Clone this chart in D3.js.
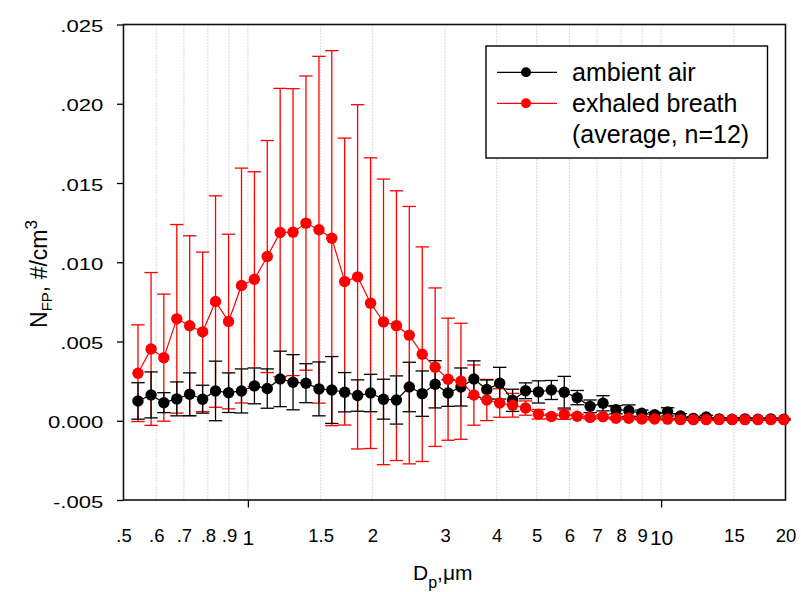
<!DOCTYPE html>
<html>
<head>
<meta charset="utf-8">
<script src="https://cdn.jsdelivr.net/npm/d3@7"></script>
<style>
  body { margin: 0; background: #fff; }
  svg { display: block; font-family: "Liberation Sans", Arial, sans-serif; }
</style>
</head>
<body>
<svg id="chart" width="801" height="592"></svg>
<script>
// ---- data ----
const diameters = [0.542, 0.583, 0.626, 0.673, 0.723, 0.777, 0.835, 0.898, 0.965, 1.037,
  1.114, 1.197, 1.286, 1.382, 1.486, 1.596, 1.715, 1.843, 1.981, 2.129,
  2.288, 2.458, 2.642, 2.839, 3.051, 3.278, 3.523, 3.786, 4.068, 4.371,
  4.698, 5.048, 5.425, 5.829, 6.264, 6.732, 7.234, 7.774, 8.354, 8.977,
  9.647, 10.37, 11.14, 11.97, 12.86, 13.82, 14.86, 15.96, 17.15, 18.43, 19.81];

const ambientMean = [0.00125, 0.00163, 0.00114, 0.00138, 0.00167, 0.00136, 0.00188, 0.00177, 0.00188, 0.00220,
  0.00203, 0.00264, 0.00243, 0.00237, 0.00201, 0.00194, 0.00180, 0.00159, 0.00175, 0.00136,
  0.00131, 0.00213, 0.00171, 0.00230, 0.00175, 0.00213, 0.00263, 0.00197, 0.00237, 0.00129,
  0.00189, 0.00182, 0.00194, 0.00180, 0.00146, 0.00091, 0.00110, 0.00070, 0.00064, 0.00047,
  0.00038, 0.00056, 0.00030, 0.00015, 0.00024, 0.00012, 0.00010, 0.00012, 0.00010, 0.00012, 0.00010];

const ambientErr = [0.00115, 0.00145, 0.00063, 0.00107, 0.00135, 0.00088, 0.00188, 0.00125, 0.00139, 0.00113,
  0.00124, 0.00175, 0.00174, 0.00123, 0.00170, 0.00211, 0.00124, 0.00099, 0.00118, 0.00126,
  0.00152, 0.00156, 0.00143, 0.00149, 0.00084, 0.00120, 0.00115, 0.00060, 0.00100, 0.00070,
  0.00050, 0.00070, 0.00060, 0.00100, 0.00045, 0.00040, 0.00048, 0.00026, 0.00036, 0.00020,
  0.00015, 0.00026, 0.00015, 0.00010, 0.00010, 0.00008, 0.00008, 0.00008, 0.00006, 0.00006, 0.00005];

const breathMean = [0.00300, 0.00453, 0.00398, 0.00643, 0.00599, 0.00561, 0.00752, 0.00626, 0.00853, 0.00893,
  0.01036, 0.01188, 0.01190, 0.01247, 0.01205, 0.01152, 0.00878, 0.00908, 0.00742, 0.00624,
  0.00600, 0.00540, 0.00420, 0.00338, 0.00262, 0.00249, 0.00162, 0.00131, 0.00112, 0.00098,
  0.00080, 0.00041, 0.00027, 0.00039, 0.00028, 0.00021, 0.00026, 0.00016, 0.00016, 0.00011,
  0.00011, 0.00010, 0.00007, 0.00007, 0.00007, 0.00007, 0.00007, 0.00007, 0.00007, 0.00007, 0.00007];

const breathErr = [0.00305, 0.00482, 0.00401, 0.00595, 0.00568, 0.00503, 0.00667, 0.00551, 0.00741, 0.00678,
  0.00732, 0.00909, 0.00905, 0.00928, 0.01094, 0.01183, 0.00905, 0.01086, 0.00917, 0.00901,
  0.00851, 0.00812, 0.00677, 0.00500, 0.00385, 0.00366, 0.00190, 0.00130, 0.00090, 0.00075,
  0.00045, 0.00030, 0.00015, 0.00030, 0.00012, 0.00010, 0.00012, 0.00008, 0.00006, 0.00005,
  0.00005, 0.00005, 0.00003, 0.00003, 0.00003, 0.00003, 0.00003, 0.00003, 0.00003, 0.00003, 0.00003];

const xTickValues = [0.5, 0.6, 0.7, 0.8, 0.9, 1, 1.5, 2, 3, 4, 5, 6, 7, 8, 9, 10, 15, 20];
const xTickLabels = [".5", ".6", ".7", ".8", ".9", "1", "1.5", "2", "3", "4", "5", "6", "7", "8", "9", "10", "15", "20"];
const xMajorTicks = [1, 10];
const yTickValues = [-0.005, 0, 0.005, 0.010, 0.015, 0.020, 0.025];
const yTickLabels = ["-.005", "0.000", ".005", ".010", ".015", ".020", ".025"];
const seriesNames = ["ambient air", "exhaled breath", "(average, n=12)"];

// ---- layout ----
const L = 123.5, R = 785.5, T = 24.5, B = 500;
const svg = d3.select("#chart");
const x = d3.scaleLog().domain([0.5, 20]).range([L, R]);
const y = d3.scaleLinear().domain([-0.005, 0.025]).range([B, T]);

// grid
svg.append("g").selectAll("line")
  .data(xTickValues.filter(v => v > 0.5 && v < 20))
  .join("line")
  .attr("x1", d => x(d)).attr("x2", d => x(d))
  .attr("y1", T).attr("y2", B)
  .attr("stroke", "#b4b4b4").attr("stroke-width", 1)
  .attr("stroke-dasharray", "1,2");

// x axis labels
const xLabelMap = new Map(xTickValues.map((v, i) => [v, xTickLabels[i]]));
const gx = svg.append("g").attr("transform", `translate(0,${B})`)
  .call(d3.axisBottom(x).tickValues(xTickValues).tickSize(0).tickFormat(d => xLabelMap.get(d)));
gx.select(".domain").remove();
gx.selectAll("text")
  .attr("dy", 0)
  .attr("y", d => xMajorTicks.includes(d) ? 45 : 41.7)
  .attr("fill", "#000")
  .style("font-size", d => xMajorTicks.includes(d) ? "21px" : "18.5px")
  .style("font-family", '"Liberation Sans", Arial, sans-serif');

// major x ticks
const gxm = svg.append("g").attr("transform", `translate(0,${B})`)
  .call(d3.axisBottom(x).tickValues(xMajorTicks).tickSize(7.5).tickFormat(""));
gxm.select(".domain").remove();
gxm.selectAll("line").attr("stroke", "#000").attr("stroke-width", 1.3);

// y axis
const yLabelMap = new Map(yTickValues.map((v, i) => [v, yTickLabels[i]]));
const gy = svg.append("g").attr("transform", `translate(${L},0)`)
  .call(d3.axisLeft(y).tickValues(yTickValues).tickSize(6.5).tickFormat(d => yLabelMap.get(d)));
gy.select(".domain").remove();
gy.selectAll("line").attr("stroke", "#000").attr("stroke-width", 1.3);
gy.selectAll("text")
  .attr("x", -15.5)
  .attr("dy", "0.42em")
  .attr("transform", "scale(1.3,1)")
  .attr("fill", "#000")
  .style("font-size", "17px")
  .style("font-family", '"Liberation Sans", Arial, sans-serif');

// frame
svg.append("rect").attr("x", L).attr("y", T).attr("width", R - L).attr("height", B - T)
  .attr("fill", "none").attr("stroke", "#111").attr("stroke-width", 1.6);

// series helpers
function errorBars(mean, err, color) {
  const g = svg.append("g").attr("stroke", color).attr("stroke-width", 1.3).attr("fill", "none");
  const idx = d3.range(diameters.length);
  g.selectAll("line.v").data(idx).join("line").attr("class", "v")
    .attr("x1", i => x(diameters[i])).attr("x2", i => x(diameters[i]))
    .attr("y1", i => y(mean[i] + err[i])).attr("y2", i => y(mean[i] - err[i]));
  g.selectAll("line.t").data(idx).join("line").attr("class", "t")
    .attr("x1", i => x(diameters[i]) - 6.7).attr("x2", i => x(diameters[i]) + 6.7)
    .attr("y1", i => y(mean[i] + err[i])).attr("y2", i => y(mean[i] + err[i]));
  g.selectAll("line.b").data(idx).join("line").attr("class", "b")
    .attr("x1", i => x(diameters[i]) - 6.7).attr("x2", i => x(diameters[i]) + 6.7)
    .attr("y1", i => y(mean[i] - err[i])).attr("y2", i => y(mean[i] - err[i]));
}
function lineAndPoints(mean, color) {
  const idx = d3.range(diameters.length);
  svg.append("path").datum(idx)
    .attr("fill", "none").attr("stroke", color).attr("stroke-width", 1.2)
    .attr("d", d3.line().x(i => x(diameters[i])).y(i => y(mean[i])));
  svg.append("g").selectAll("circle").data(idx).join("circle")
    .attr("cx", i => x(diameters[i])).attr("cy", i => y(mean[i]))
    .attr("r", 5.7).attr("fill", color);
}

errorBars(breathMean, breathErr, "#ff0000");
errorBars(ambientMean, ambientErr, "#000000");
lineAndPoints(ambientMean, "#000000");
lineAndPoints(breathMean, "#ff0000");

// legend
const lg = svg.append("g");
lg.append("rect").attr("x", 486).attr("y", 46).attr("width", 281.5).attr("height", 112)
  .attr("fill", "#fff").attr("stroke", "#000").attr("stroke-width", 1.4);
const legendRows = [{ c: "#000000", t: seriesNames[0], y: 72.3 }, { c: "#ff0000", t: seriesNames[1], y: 103.3 }];
legendRows.forEach(r => {
  lg.append("line").attr("x1", 497).attr("x2", 557).attr("y1", r.y).attr("y2", r.y)
    .attr("stroke", r.c).attr("stroke-width", 1.3);
  lg.append("circle").attr("cx", 526).attr("cy", r.y).attr("r", 5).attr("fill", r.c);
  lg.append("text").attr("x", 572).attr("y", r.y + 9).attr("font-size", 25).attr("fill", "#000").text(r.t);
});
lg.append("text").attr("x", 572).attr("y", 134.3 + 9).attr("font-size", 25).attr("fill", "#000").text(seriesNames[2]);

// axis titles
const xt = svg.append("text").attr("x", 413).attr("y", 580).attr("font-size", 21).attr("fill", "#000");
xt.append("tspan").text("D");
xt.append("tspan").attr("dy", 8).attr("font-size", 16).text("p");
xt.append("tspan").attr("dy", -8).text(",μm");

const yt = svg.append("text").attr("transform", "translate(46.5,274) rotate(-90)")
  .attr("text-anchor", "middle").attr("font-size", 23).attr("fill", "#000");
yt.append("tspan").text("N");
yt.append("tspan").attr("dy", 5).attr("font-size", 15).text("FP");
yt.append("tspan").attr("dy", -5).text(", #/cm");
yt.append("tspan").attr("dy", -10).attr("font-size", 17).text("3");
</script>
</body>
</html>
